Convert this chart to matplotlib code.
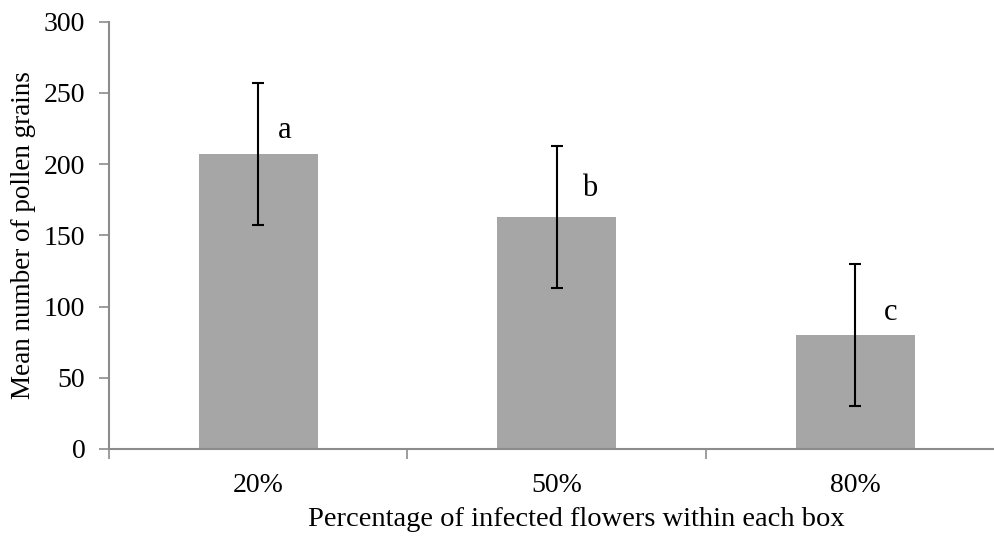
import matplotlib.pyplot as plt
import numpy as np

plt.rcParams['font.family'] = ['Liberation Serif', 'DejaVu Serif']

# datos
categorias = ['20%', '50%', '80%']
medias = [207, 163, 80]
errores = [50, 50, 50]
letras = ['a', 'b', 'c']

# desplazamiento de las letras respecto a cada barra (x en categorías, y en granos)
dx_letras = [0.09, 0.11, 0.12]
dy_letras = [17, 20, 16]

gris_eje = '#8c8c8c'

fig = plt.figure(figsize=(9.95, 5.38), dpi=100)
ax = fig.add_axes([0.1095, 0.1655, 0.8905, 0.794])

x = np.arange(len(categorias))
ax.bar(x, medias, width=0.4, color='#a6a6a6', zorder=2)
ax.errorbar(x, medias, yerr=errores, fmt='none', ecolor='black',
            elinewidth=1.5, capsize=4, capthick=1.5, zorder=3)

for xi, m, l, dx, dy in zip(x, medias, letras, dx_letras, dy_letras):
    ax.text(xi + dx, m + dy, l, ha='center', va='center', fontsize=22)

ax.set_xlim(-0.5, 2.468)
ax.set_ylim(0, 300)
ax.set_yticks(np.arange(0, 301, 50))
ax.set_xticks(x)
ax.set_xticklabels(categorias)
ax.set_xticks([-0.5, 0.5, 1.5], minor=True)

for s in ['top', 'right']:
    ax.spines[s].set_visible(False)
for s in ['left', 'bottom']:
    ax.spines[s].set_color(gris_eje)
    ax.spines[s].set_linewidth(1.5)

ax.tick_params(axis='y', direction='out', length=7, width=1.2, color=gris_eje,
               labelsize=20, pad=10)
ax.tick_params(axis='x', which='major', length=0, labelsize=20, pad=17)
ax.tick_params(axis='x', which='minor', direction='out', length=7, width=1.2,
               color=gris_eje)

ax.set_ylabel('Mean number of pollen grains', fontsize=19.5, labelpad=6)
ax.set_xlabel('Percentage of infected flowers within each box', fontsize=20.5)
ax.xaxis.set_label_coords(0.528, -0.137)

fig.savefig('out.png', dpi=100)
